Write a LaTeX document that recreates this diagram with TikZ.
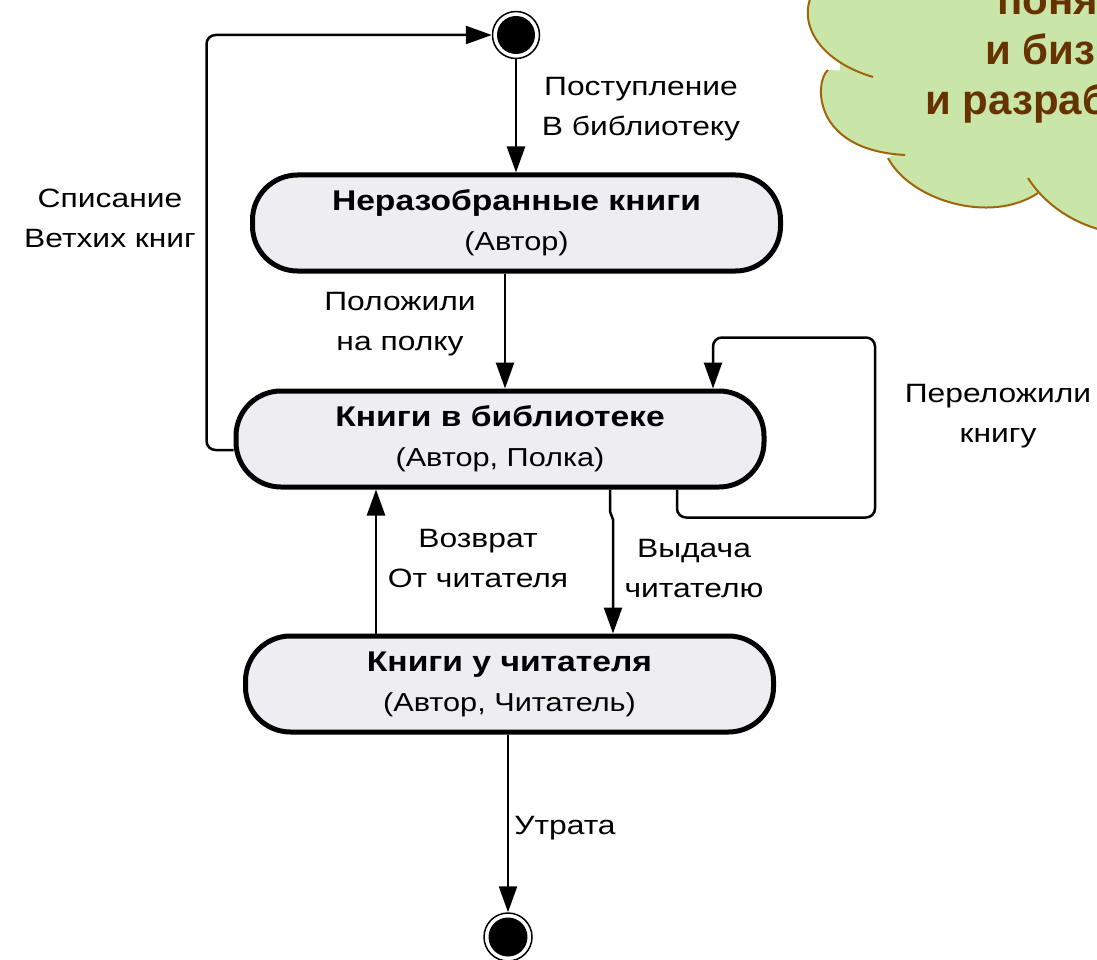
\documentclass[tikz,border=0pt]{standalone}
\usepackage{fontspec}
\setmainfont{Liberation Sans}
\newfontfamily\labfont[FakeStretch=1.2]{Liberation Sans}
\newfontfamily\stfont[FakeStretch=1.18]{Liberation Sans}
\newfontfamily\cloudfont{Liberation Sans}
\usetikzlibrary{arrows.meta}
\definecolor{stfill}{RGB}{238,238,242}
\definecolor{cloudfill}{RGB}{201,230,168}
\definecolor{cloudline}{RGB}{160,100,10}
\definecolor{cloudtext}{RGB}{102,51,0}
\tikzset{
  statebox/.style={draw, line width=5pt, fill=stfill, rounded corners=45pt,
    minimum width=528pt, minimum height=96pt, align=center, inner sep=0pt,
    font=\stfont\fontsize{26}{40}\selectfont},
  arr/.style={line width=2.5pt, -{Triangle[length=26pt,width=18pt]}},
  rc/.style={rounded corners=9pt},
  lab/.style={align=center, inner sep=0pt, font=\labfont\fontsize{26.5}{40}\selectfont},
  pseudo/.style={circle, draw, line width=1.5pt, fill=white, inner sep=0pt, minimum size=#1,
    path picture={\fill[black] (path picture bounding box.center) circle (0.5*#1-4.5pt);}},
  cloudtxt/.style={anchor=base west, inner sep=0pt, text=cloudtext,
    font=\cloudfont\bfseries\fontsize{42}{50}\selectfont},
}
\begin{document}
\begin{tikzpicture}[x=1pt,y=-1pt]
\useasboundingbox (0,0) rectangle (1097,960);
\begin{scope}
\clip (0,0) rectangle (1097,960);
% cloud fill
\fill[cloudfill] (840,-30) rectangle (1110,80);
\fill[cloudfill] (825,-20) .. controls (795,0) and (800,55) .. (873,77) -- (1050,80) -- cycle;
\fill[cloudfill] (828,70) .. controls (815,80) and (810,150) .. (905,155) -- (1050,80) -- cycle;
\fill[cloudfill] (888,158) .. controls (910,200) and (990,225) .. (1038,193) -- (1050,80) -- cycle;
\fill[cloudfill] (1028,178) .. controls (1045,205) and (1075,225) .. (1110,232) -- (1110,80) -- (1050,80) -- cycle;
% cloud outline
\begin{scope}[draw=cloudline, line width=2pt]
\draw (825,-20) .. controls (795,0) and (800,55) .. (873,77);
\draw (828,70) .. controls (815,80) and (810,150) .. (905,155);
\draw (888,158) .. controls (910,200) and (990,225) .. (1038,193);
\draw (1028,178) .. controls (1045,205) and (1075,225) .. (1110,232);
\end{scope}
\node[cloudtxt] (c1) at (997,15) {поня};
\node[cloudtxt] (c2) at (985,65) {и биз};
\node[cloudtxt] (c3) at (925,115) {и разраб};
\end{scope}

% pseudo states
\node[pseudo=47pt] (init) at (516,35) {};
\node[pseudo=48pt] (final) at (508,937) {};

% states
\node[statebox] (s1) at (516.5,223) {{\bfseries\fontsize{28.5}{40}\selectfont Неразобранные книги}\\(Автор)};
\node[statebox] (s2) at (500,439) {{\bfseries\fontsize{28.5}{40}\selectfont Книги в библиотеке}\\(Автор, Полка)};
\node[statebox] (s3) at (509.5,684) {{\bfseries\fontsize{28.5}{40}\selectfont Книги у читателя}\\(Автор, Читатель)};

% transitions
\draw[arr] (init) -- (init |- s1.north);
\draw[arr] ([xshift=-11.5pt]s1.south) -- ([xshift=-11.5pt]s1.south |- s2.north);
\draw[arr,rc] ([yshift=-11pt]s2.west) -- ++(-27,0) |- (init.west);
\draw[arr,rc] ([xshift=177pt]s2.south) -- ++(0,28) -- ++(198,0) |- ([xshift=213pt,yshift=51pt]s2.north) -- ([xshift=213pt]s2.north);
\draw[arr] ([xshift=110pt]s2.south) -- ++(0,22) -- ++(3,8) -- ([xshift=113pt]s2.south |- s3.north);
\draw[arr] ([xshift=-133.5pt]s3.north) -- ([xshift=-133.5pt]s3.north |- s2.south);
\draw[arr] (s3.south -| final) -- (final.north);

% labels
\node[lab] (l1) at (641,109) {Поступление\\В библиотеку};
\node[lab] (l2) at (400,324) {Положили\\на полку};
\node[lab] (l3) at (110,218) {Списание\\Ветхих книг};
\node[lab] (l4) at (478,559) {Возврат\\От читателя};
\node[lab] (l5) at (694,569) {Выдача\\читателю};
\node[lab] (l6) at (998,416) {Переложили\\книгу};
\node[lab] (l7) at (565,828) {Утрата};
\end{tikzpicture}
\end{document}
